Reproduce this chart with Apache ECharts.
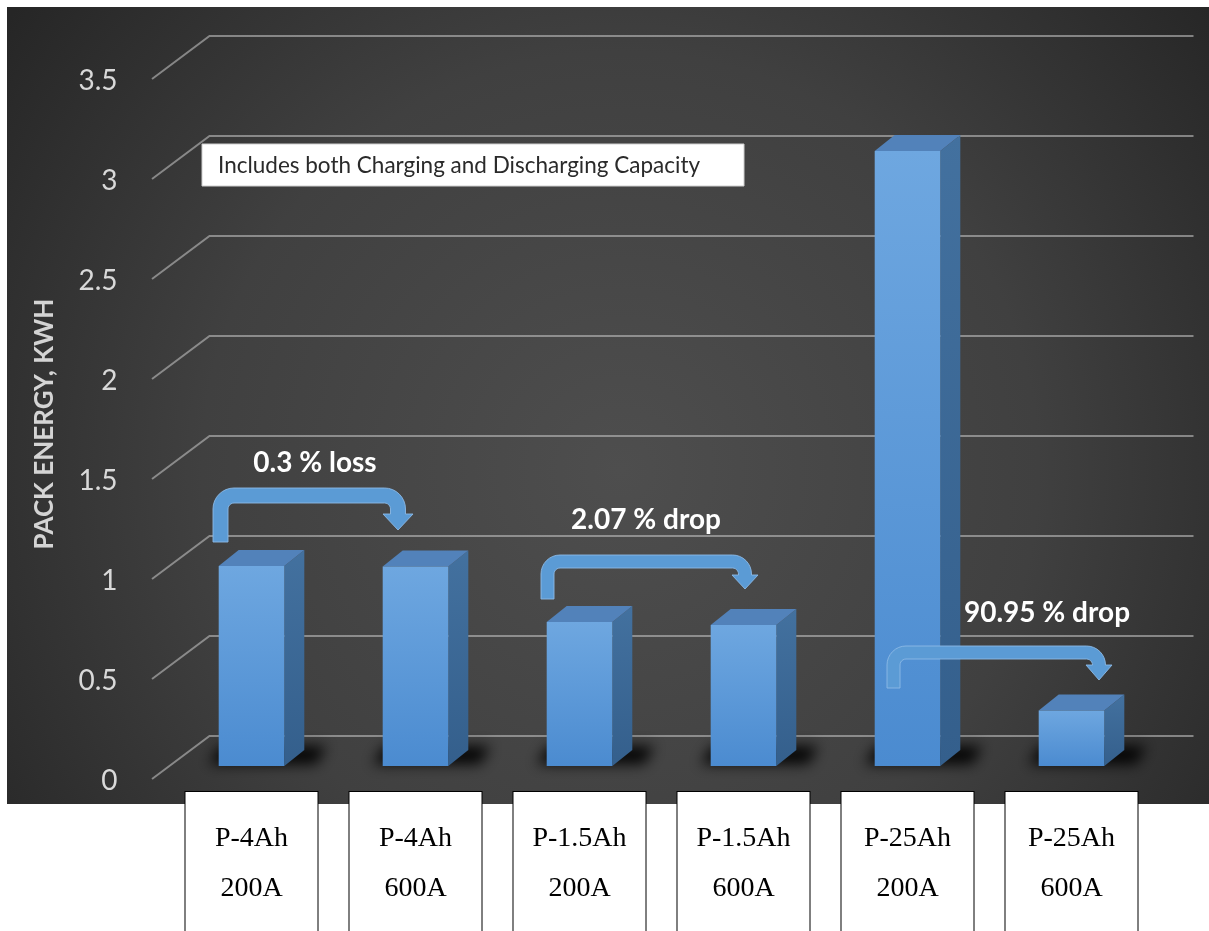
<!DOCTYPE html>
<html>
<head>
<meta charset="utf-8">
<script src="https://cdn.jsdelivr.net/npm/echarts@6/dist/echarts.min.js"></script>
<style>
  html, body { margin: 0; padding: 0; background: #ffffff; }
  #chart { width: 1209px; height: 931px; }
</style>
</head>
<body>
<div id="chart"></div>
<script>
// ---- data ----
const categories = ['P-4Ah 200A', 'P-4Ah 600A', 'P-1.5Ah 200A', 'P-1.5Ah 600A', 'P-25Ah 200A', 'P-25Ah 600A'];
const packEnergy = [1.0, 0.997, 0.72, 0.705, 3.075, 0.278];
const yTicks = [0, 0.5, 1, 1.5, 2, 2.5, 3, 3.5];
const axisTitle = 'PACK ENERGY, KWH';
const noteText = 'Includes both Charging and Discharging Capacity';
const calloutTexts = ['0.3 % loss', '2.07 % drop', '90.95 % drop'];

// ---- pseudo-3D geometry (pixels) ----
const FRONT = [-17.5, 13];   // front edge of the floor relative to the bar plane
const BACK = [40, -30];      // back wall relative to the bar plane
const DEPTH = [20, -16];     // bar depth
const BAR_FRACTION = 0.4;
const SHADOW_SHIFT = 4000;   // shadow caster is drawn off-canvas, only its blur lands on the floor

const chart = echarts.init(document.getElementById('chart'), null, { renderer: 'canvas' });

function gridLineItem(params, api) {
  const cs = params.coordSys;
  const v = api.value(0);
  const y = api.coord([0, v])[1];
  const x0 = cs.x;
  const x1 = cs.x + cs.width;
  return {
    type: 'polyline',
    shape: {
      points: [
        [x0 + FRONT[0], y + FRONT[1]],
        [x0 + BACK[0], y + BACK[1]],
        [x1 + BACK[0], y + BACK[1]]
      ]
    },
    style: { stroke: 'rgba(190,190,190,0.6)', lineWidth: 2, fill: null }
  };
}

function barItem(params, api) {
  const idx = api.value(0);
  const val = api.value(1);
  const top = api.coord([idx, val]);
  const base = api.coord([idx, 0]);
  const w = api.size([1, 0])[0] * BAR_FRACTION;
  const l = top[0] - w / 2, r = top[0] + w / 2;
  const yt = top[1], yb = base[1];
  const dx = DEPTH[0], dy = DEPTH[1];
  const S = SHADOW_SHIFT;
  return {
    type: 'group',
    children: [
      { // soft floor shadow
        type: 'polygon',
        shape: { points: [[l - 10 + S, yb - 2], [r + dx + 12 + S, yb - 2], [r + dx + 22 + S, yb + dy - 4], [l + 2 + S, yb + dy - 4]] },
        style: {
          fill: '#000', shadowBlur: 14, shadowColor: 'rgba(0,0,0,0.95)',
          shadowOffsetX: -S, shadowOffsetY: 0
        }
      },
      { // side face
        type: 'polygon',
        shape: { points: [[r, yt], [r + dx, yt + dy], [r + dx, yb + dy], [r, yb]] },
        style: {
          fill: new echarts.graphic.LinearGradient(0, 0, 0, 1, [
            { offset: 0, color: '#43719f' }, { offset: 1, color: '#345f8c' }
          ])
        }
      },
      { // top face
        type: 'polygon',
        shape: { points: [[l, yt], [l + dx, yt + dy], [r + dx, yt + dy], [r, yt]] },
        style: { fill: '#5282ba' }
      },
      { // front face
        type: 'rect',
        shape: { x: l, y: yt, width: w, height: yb - yt },
        style: {
          fill: new echarts.graphic.LinearGradient(0, 0, 0, 1, [
            { offset: 0, color: '#6ea7e0' }, { offset: 1, color: '#4b8bd0' }
          ])
        }
      }
    ]
  };
}

// bent callout arrow as a polygon
function arcPts(cx, cy, r, a0, a1, n) {
  const pts = [];
  for (let i = 0; i <= n; i++) {
    const a = a0 + (a1 - a0) * i / n;
    pts.push([cx + r * Math.cos(a), cy + r * Math.sin(a)]);
  }
  return pts;
}
function bentArrow(g) {
  const { x0, yb, yTop, tipX, tipY, yh, t, hw } = g;
  const R = t + 6, ri = 6;
  const xr = tipX + t / 2;
  const P = Math.PI;
  let pts = [[x0, yb], [x0, yTop + R]];
  pts = pts.concat(arcPts(x0 + R, yTop + R, R, P, 1.5 * P, 8));
  pts.push([xr - R, yTop]);
  pts = pts.concat(arcPts(xr - R, yTop + R, R, 1.5 * P, 2 * P, 8));
  pts.push([xr, yh], [tipX + hw, yh], [tipX, tipY], [tipX - hw, yh], [xr - t, yh]);
  pts = pts.concat(arcPts(xr - t - ri, yTop + t + ri, ri, 2 * P, 1.5 * P, 6));
  pts.push([x0 + t + ri, yTop + t]);
  pts = pts.concat(arcPts(x0 + t + ri, yTop + t + ri, ri, 1.5 * P, P, 6));
  pts.push([x0 + t, yb]);
  return {
    type: 'polygon', z: 20,
    shape: { points: pts },
    style: { fill: '#5b9bd5', stroke: 'rgba(140,185,230,0.9)', lineWidth: 1 }
  };
}

// callout placement
const calloutLayout = [
  { x0: 213, yb: 542, yTop: 488, tipX: 398, tipY: 530, yh: 514, t: 15, hw: 15, tx: 315, ty: 463 },
  { x0: 541, yb: 599, yTop: 555, tipX: 745, tipY: 589, yh: 575, t: 13, hw: 13, tx: 646, ty: 520 },
  { x0: 887, yb: 688, yTop: 646, tipX: 1099, tipY: 680, yh: 665, t: 13, hw: 13, tx: 1047, ty: 613 }
];

const graphics = [
  { // dark panel with soft radial light
    type: 'rect', z: -10, silent: true,
    shape: { x: 7, y: 7, width: 1202, height: 797 },
    style: {
      fill: {
        type: 'radial', x: 620, y: 470, r: 760, global: true,
        colorStops: [
          { offset: 0, color: '#4e4e4e' },
          { offset: 0.55, color: '#404040' },
          { offset: 1, color: '#262626' }
        ]
      }
    }
  },
  { // note box
    type: 'rect', z: 20,
    shape: { x: 202, y: 144, width: 542, height: 42 },
    style: { fill: '#ffffff', stroke: '#cfcfcf', lineWidth: 1 }
  },
  {
    type: 'text', z: 21, x: 218, y: 166,
    style: { text: noteText, fill: '#2a2a2a', font: '22.5px Lato', textVerticalAlign: 'middle' }
  }
];
calloutLayout.forEach((g, i) => {
  graphics.push(bentArrow(g));
  graphics.push({
    type: 'text', z: 21, x: g.tx, y: g.ty,
    style: {
      text: calloutTexts[i], fill: '#ffffff', font: 'bold 28px Lato',
      textAlign: 'center', textVerticalAlign: 'middle'
    }
  });
});

const option = {
  animation: false,
  backgroundColor: '#ffffff',
  grid: { left: 169.5, right: 55.5, top: 66, bottom: 165, containLabel: false, outerBoundsMode: 'none' },
  xAxis: {
    type: 'category',
    data: categories,
    axisLine: { show: false },
    axisTick: { show: false },
    splitLine: { show: false },
    axisLabel: {
      interval: 0,
      margin: 26,
      formatter: (s) => s.split(' ').join('\n'),
      fontFamily: 'Liberation Serif',
      fontSize: 28,
      lineHeight: 50,
      color: '#000000',
      backgroundColor: '#ffffff',
      borderColor: '#000000',
      borderWidth: 1,
      width: 132,
      align: 'center',
      padding: [22, 0, 40, 0]
    }
  },
  yAxis: {
    type: 'value',
    min: 0, max: 3.5, interval: 0.5,
    axisLine: { show: false },
    axisTick: { show: false },
    splitLine: { show: false },
    axisLabel: {
      color: '#d9d9d9', fontFamily: 'Lato', fontSize: 28,
      margin: 52, verticalAlign: 'top', lineHeight: 30
    },
    name: axisTitle,
    nameLocation: 'middle',
    nameGap: 112,
    nameRotate: 90,
    nameTextStyle: {
      color: '#d4d4d4', fontFamily: 'Lato', fontWeight: 'bold', fontSize: 26,
      padding: [0, 16, 0, 0]
    }
  },
  series: [
    {
      type: 'custom',
      name: 'grid',
      renderItem: gridLineItem,
      data: yTicks.map(v => [v]),
      encode: { y: 0 },
      z: 1,
      silent: true
    },
    {
      type: 'custom',
      name: 'Pack energy',
      renderItem: barItem,
      data: packEnergy.map((v, i) => [i, v]),
      encode: { x: 0, y: 1 },
      clip: false,
      z: 3
    }
  ],
  graphic: graphics
};

chart.setOption(option);
</script>
</body>
</html>
